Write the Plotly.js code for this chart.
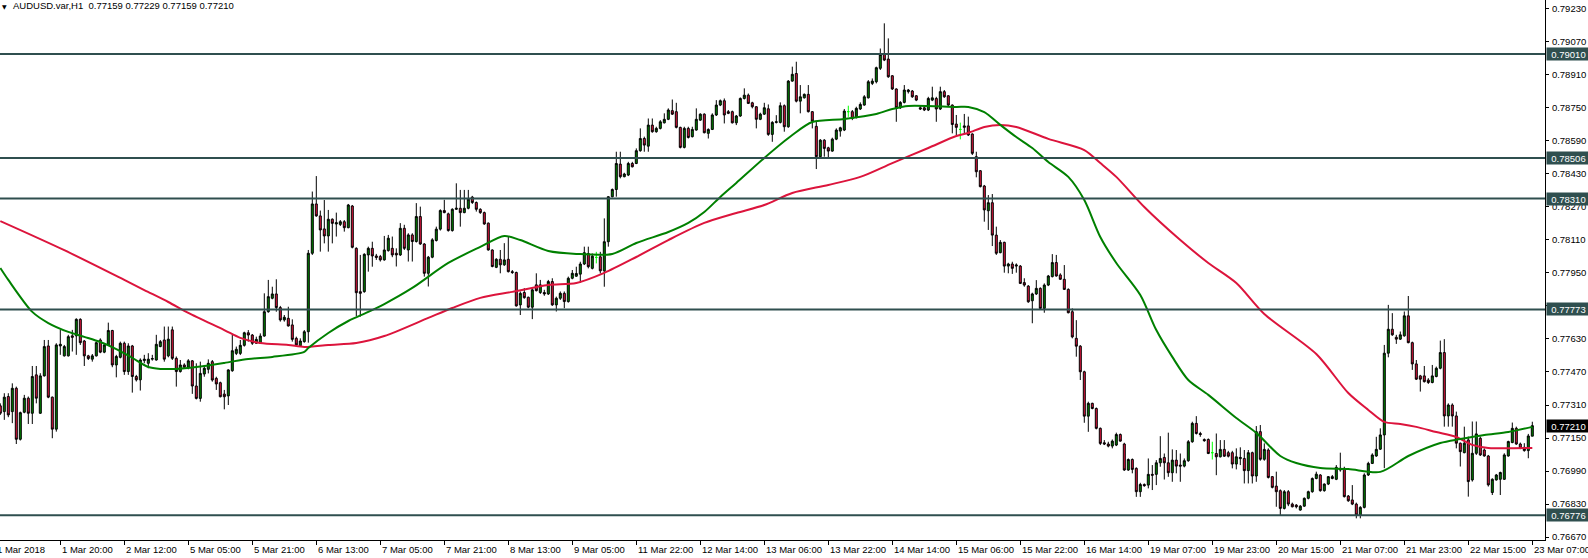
<!DOCTYPE html>
<html><head><meta charset="utf-8">
<script src="https://cdn.plot.ly/plotly-3.0.1.min.js"></script>
<style>html,body{margin:0;padding:0;background:#fff;overflow:hidden}#chart{width:1588px;height:558px}</style>
</head><body><div id="chart"></div>
<script>
const symbolTitle = 'AUDUSD.var,H1  0.77159 0.77229 0.77159 0.77210';

const open = [
0.77306,0.77278,0.77351,0.77278,0.77391,0.77144,0.77275,0.77343,0.77270,0.77456,
0.77270,0.77451,0.77596,0.77348,0.77193,0.77596,0.77548,0.77548,0.77645,0.77645,
0.77725,0.77620,0.77548,0.77532,0.77548,0.77625,0.77566,0.77601,0.77671,0.77504,
0.77541,0.77609,0.77472,0.77596,0.77448,0.77432,0.77525,0.77512,0.77532,0.77528,
0.77593,0.77625,0.77548,0.77674,0.77536,0.77472,0.77504,0.77493,0.77524,0.77402,
0.77342,0.77460,0.77483,0.77520,0.77439,0.77418,0.77363,0.77354,0.77476,0.77560,
0.77560,0.77599,0.77660,0.77649,0.77609,0.77609,0.77644,0.77762,0.77827,0.77848,
0.77782,0.77722,0.77730,0.77698,0.77633,0.77597,0.77617,0.77665,0.78045,0.78284,
0.78226,0.78163,0.78129,0.78210,0.78187,0.78185,0.78198,0.78169,0.78274,0.78069,
0.77859,0.77859,0.78037,0.78069,0.78032,0.78029,0.78013,0.78058,0.78069,0.78045,
0.78037,0.78166,0.78061,0.78134,0.78102,0.78223,0.78090,0.77948,0.78026,0.78107,
0.78162,0.78252,0.78236,0.78155,0.78258,0.78263,0.78242,0.78263,0.78317,0.78291,
0.78258,0.78242,0.78191,0.78061,0.77977,0.78016,0.77989,0.78016,0.77956,0.77952,
0.77795,0.77855,0.77832,0.77784,0.77892,0.77855,0.77855,0.77848,0.77908,0.77795,
0.77827,0.77851,0.77811,0.77924,0.77934,0.77944,0.77993,0.78044,0.77972,0.78025,
0.78028,0.77960,0.78101,0.78319,0.78354,0.78477,0.78416,0.78424,0.78480,0.78480,
0.78542,0.78601,0.78564,0.78666,0.78634,0.78650,0.78677,0.78694,0.78736,0.78731,
0.78655,0.78558,0.78650,0.78610,0.78642,0.78690,0.78719,0.78626,0.78645,0.78715,
0.78763,0.78784,0.78731,0.78731,0.78677,0.78710,0.78795,0.78811,0.78774,0.78755,
0.78694,0.78719,0.78745,0.78621,0.78679,0.78679,0.78760,0.78658,0.78879,0.78916,
0.78782,0.78798,0.78815,0.78731,0.78660,0.78513,0.78593,0.78556,0.78540,0.78598,
0.78637,0.78642,0.78731,0.78731,0.78706,0.78744,0.78763,0.78798,0.78868,0.78876,
0.78941,0.79008,0.78986,0.78905,0.78841,0.78750,0.78776,0.78828,0.78831,0.78808,
0.78750,0.78750,0.78739,0.78787,0.78795,0.78744,0.78828,0.78808,0.78763,0.78671,
0.78645,0.78655,0.78662,0.78623,0.78513,0.78445,0.78371,0.78251,0.78290,0.78133,
0.78048,0.78098,0.77983,0.77993,0.77983,0.77983,0.77903,0.77886,0.77815,0.77848,
0.77875,0.77778,0.77891,0.77932,0.78000,0.77940,0.77919,0.77870,0.77762,0.77633,
0.77595,0.77471,0.77256,0.77318,0.77293,0.77197,0.77127,0.77121,0.77111,0.77116,
0.77167,0.77121,0.76995,0.77046,0.77003,0.76890,0.76925,0.76922,0.76974,0.76974,
0.77030,0.77056,0.77030,0.76982,0.77043,0.77019,0.77014,0.77040,0.77132,0.77221,
0.77172,0.77143,0.77143,0.77079,0.77075,0.77059,0.77095,0.77079,0.77079,0.77024,
0.77050,0.77051,0.76992,0.77079,0.76966,0.77181,0.77047,0.77092,0.76963,0.76917,
0.76895,0.76809,0.76890,0.76830,0.76825,0.76801,0.76820,0.76858,0.76890,0.76954,
0.76971,0.76895,0.76927,0.76954,0.76950,0.76995,0.77003,0.76869,0.76850,0.76830,
0.76777,0.76814,0.76971,0.77027,0.77063,0.77096,0.77165,0.77561,0.77677,0.77638,
0.77629,0.77645,0.77742,0.77612,0.77509,0.77451,0.77451,0.77431,0.77419,0.77448,
0.77488,0.77564,0.77257,0.77310,0.77257,0.77125,0.77079,0.77141,0.76947,0.77076,
0.77149,0.77092,0.77063,0.76886,0.76947,0.76950,0.76950,0.77063,0.77128,0.77197,
0.77121,0.77105,0.77089,0.77159];

const high = [
0.77318,0.77367,0.77367,0.77415,0.77399,0.77278,0.77359,0.77351,0.77499,0.77499,
0.77464,0.77625,0.77625,0.77351,0.77609,0.77674,0.77601,0.77650,0.77674,0.77730,
0.77730,0.77625,0.77553,0.77557,0.77617,0.77633,0.77609,0.77709,0.77674,0.77553,
0.77617,0.77617,0.77609,0.77601,0.77456,0.77536,0.77553,0.77561,0.77553,0.77650,
0.77625,0.77690,0.77690,0.77690,0.77545,0.77528,0.77512,0.77532,0.77528,0.77512,
0.77520,0.77504,0.77531,0.77528,0.77447,0.77423,0.77383,0.77483,0.77649,0.77593,
0.77625,0.77665,0.77673,0.77654,0.77641,0.77657,0.77851,0.77916,0.77883,0.77919,
0.77790,0.77746,0.77786,0.77725,0.77641,0.77633,0.77673,0.78061,0.78344,0.78419,
0.78252,0.78303,0.78255,0.78214,0.78242,0.78206,0.78206,0.78284,0.78279,0.78074,
0.78037,0.78045,0.78077,0.78101,0.78042,0.78037,0.78129,0.78134,0.78126,0.78069,
0.78191,0.78183,0.78142,0.78142,0.78288,0.78271,0.78094,0.78032,0.78118,0.78174,
0.78258,0.78304,0.78242,0.78263,0.78384,0.78352,0.78352,0.78352,0.78323,0.78296,
0.78263,0.78247,0.78194,0.78064,0.78021,0.78061,0.78094,0.78126,0.77964,0.77956,
0.77860,0.77876,0.77835,0.77876,0.77948,0.77916,0.77868,0.77916,0.77924,0.77835,
0.77860,0.77860,0.77932,0.77964,0.77980,0.78004,0.78077,0.78077,0.78044,0.78052,
0.78052,0.78214,0.78322,0.78359,0.78537,0.78537,0.78435,0.78488,0.78488,0.78553,
0.78650,0.78610,0.78698,0.78698,0.78658,0.78690,0.78723,0.78747,0.78790,0.78774,
0.78658,0.78658,0.78658,0.78658,0.78747,0.78723,0.78723,0.78650,0.78723,0.78787,
0.78790,0.78795,0.78739,0.78736,0.78715,0.78800,0.78844,0.78819,0.78779,0.78758,
0.78726,0.78774,0.78766,0.78685,0.78714,0.78776,0.78766,0.78884,0.78949,0.78973,
0.78860,0.78819,0.78860,0.78734,0.78685,0.78598,0.78598,0.78561,0.78605,0.78650,
0.78658,0.78744,0.78760,0.78739,0.78755,0.78776,0.78811,0.78884,0.78892,0.78949,
0.79037,0.79159,0.79086,0.78908,0.78844,0.78782,0.78860,0.78841,0.78836,0.78811,
0.78763,0.78760,0.78803,0.78852,0.78803,0.78852,0.78836,0.78811,0.78766,0.78715,
0.78678,0.78720,0.78707,0.78626,0.78537,0.78448,0.78376,0.78327,0.78332,0.78174,
0.78109,0.78101,0.77999,0.78004,0.77996,0.77988,0.77924,0.77891,0.77854,0.77915,
0.77880,0.77899,0.77940,0.78041,0.78037,0.77948,0.77988,0.77875,0.77778,0.77721,
0.77600,0.77476,0.77326,0.77321,0.77298,0.77201,0.77140,0.77132,0.77143,0.77176,
0.77172,0.77127,0.77051,0.77051,0.77008,0.76933,0.76930,0.77051,0.77019,0.77043,
0.77159,0.77075,0.77176,0.77095,0.77092,0.77075,0.77051,0.77140,0.77229,0.77256,
0.77180,0.77148,0.77148,0.77132,0.77172,0.77140,0.77140,0.77088,0.77088,0.77100,
0.77105,0.77092,0.77092,0.77084,0.77208,0.77213,0.77124,0.77100,0.76966,0.76987,
0.76901,0.76898,0.76898,0.76837,0.76830,0.76825,0.76862,0.76895,0.76959,0.76987,
0.76975,0.76930,0.76966,0.76971,0.77019,0.77079,0.77011,0.76874,0.76922,0.76837,
0.76820,0.76979,0.77035,0.77076,0.77156,0.77197,0.77601,0.77795,0.77755,0.77650,
0.77666,0.77763,0.77838,0.77617,0.77528,0.77456,0.77499,0.77440,0.77504,0.77496,
0.77622,0.77629,0.77318,0.77318,0.77278,0.77128,0.77205,0.77157,0.77230,0.77230,
0.77157,0.77100,0.77068,0.76955,0.76976,0.76987,0.77076,0.77137,0.77225,0.77205,
0.77128,0.77125,0.77170,0.77229];

const low = [
0.77262,0.77238,0.77251,0.77222,0.77121,0.77138,0.77270,0.77218,0.77218,0.77318,
0.77267,0.77448,0.77343,0.77149,0.77181,0.77553,0.77545,0.77545,0.77569,0.77553,
0.77601,0.77499,0.77528,0.77520,0.77545,0.77561,0.77561,0.77598,0.77493,0.77444,
0.77536,0.77456,0.77456,0.77370,0.77424,0.77380,0.77512,0.77488,0.77525,0.77525,
0.77590,0.77520,0.77541,0.77528,0.77399,0.77467,0.77488,0.77483,0.77364,0.77337,
0.77326,0.77447,0.77463,0.77423,0.77383,0.77347,0.77289,0.77310,0.77471,0.77552,
0.77552,0.77593,0.77617,0.77601,0.77606,0.77606,0.77641,0.77757,0.77822,0.77762,
0.77714,0.77714,0.77690,0.77617,0.77596,0.77593,0.77612,0.77612,0.78037,0.78222,
0.78053,0.78093,0.78053,0.78093,0.78126,0.78177,0.78150,0.78166,0.78069,0.77741,
0.77738,0.77854,0.77956,0.77980,0.78013,0.78005,0.78009,0.78053,0.78026,0.77981,
0.78032,0.78061,0.78005,0.78005,0.78097,0.78086,0.77932,0.77884,0.78021,0.78102,
0.78155,0.78239,0.78150,0.78150,0.78255,0.78174,0.78239,0.78258,0.78284,0.78247,
0.78236,0.78183,0.78058,0.77977,0.77973,0.77948,0.77984,0.77952,0.77945,0.77787,
0.77746,0.77825,0.77779,0.77726,0.77860,0.77848,0.77839,0.77843,0.77790,0.77763,
0.77819,0.77779,0.77806,0.77919,0.77931,0.77902,0.77988,0.77972,0.77967,0.77996,
0.77947,0.77883,0.78077,0.78316,0.78319,0.78408,0.78413,0.78419,0.78461,0.78477,
0.78537,0.78537,0.78537,0.78629,0.78629,0.78645,0.78674,0.78690,0.78715,0.78650,
0.78553,0.78553,0.78601,0.78606,0.78639,0.78687,0.78626,0.78601,0.78642,0.78710,
0.78758,0.78674,0.78719,0.78674,0.78666,0.78706,0.78790,0.78768,0.78747,0.78650,
0.78690,0.78715,0.78614,0.78585,0.78674,0.78674,0.78634,0.78653,0.78876,0.78776,
0.78723,0.78795,0.78727,0.78650,0.78453,0.78508,0.78513,0.78508,0.78537,0.78593,
0.78610,0.78637,0.78706,0.78690,0.78698,0.78739,0.78760,0.78795,0.78860,0.78868,
0.78933,0.78976,0.78895,0.78836,0.78682,0.78744,0.78771,0.78819,0.78798,0.78782,
0.78739,0.78734,0.78734,0.78782,0.78682,0.78739,0.78798,0.78755,0.78626,0.78618,
0.78597,0.78626,0.78613,0.78521,0.78413,0.78364,0.78198,0.78158,0.78080,0.78037,
0.78045,0.77951,0.77948,0.77945,0.77951,0.77896,0.77883,0.77805,0.77706,0.77843,
0.77773,0.77757,0.77886,0.77928,0.77932,0.77916,0.77867,0.77754,0.77633,0.77544,
0.77431,0.77224,0.77180,0.77289,0.77192,0.77116,0.77116,0.77105,0.77100,0.77111,
0.77132,0.76991,0.76991,0.76979,0.76865,0.76865,0.76914,0.76906,0.76898,0.76922,
0.77011,0.76949,0.76962,0.76938,0.76979,0.76938,0.77008,0.77035,0.77127,0.77167,
0.77156,0.77132,0.77072,0.77046,0.76970,0.77056,0.77059,0.77056,0.77003,0.76998,
0.77019,0.76930,0.76930,0.76930,0.76938,0.77040,0.77040,0.76954,0.76906,0.76817,
0.76777,0.76804,0.76820,0.76814,0.76809,0.76798,0.76817,0.76853,0.76885,0.76950,
0.76890,0.76890,0.76922,0.76950,0.76946,0.76987,0.76862,0.76841,0.76825,0.76761,
0.76761,0.76809,0.76966,0.77024,0.77059,0.77092,0.77004,0.77541,0.77645,0.77606,
0.77625,0.77641,0.77609,0.77480,0.77431,0.77375,0.77419,0.77412,0.77415,0.77444,
0.77483,0.77205,0.77205,0.77205,0.77100,0.77012,0.77076,0.76866,0.76939,0.77068,
0.77063,0.77060,0.76915,0.76874,0.76944,0.76874,0.76947,0.77060,0.77125,0.77117,
0.77096,0.77084,0.77052,0.77159];

const close = [
0.77270,0.77348,0.77262,0.77391,0.77144,0.77273,0.77343,0.77270,0.77448,0.77343,
0.77451,0.77593,0.77348,0.77193,0.77601,0.77604,0.77593,0.77641,0.77638,0.77725,
0.77612,0.77548,0.77535,0.77548,0.77612,0.77566,0.77601,0.77671,0.77504,0.77545,
0.77609,0.77472,0.77596,0.77448,0.77432,0.77528,0.77532,0.77532,0.77535,0.77604,
0.77617,0.77532,0.77629,0.77536,0.77472,0.77504,0.77493,0.77524,0.77402,0.77342,
0.77463,0.77488,0.77512,0.77431,0.77412,0.77350,0.77350,0.77480,0.77573,0.77580,
0.77599,0.77660,0.77649,0.77609,0.77628,0.77644,0.77762,0.77835,0.77848,0.77782,
0.77722,0.77735,0.77693,0.77628,0.77601,0.77620,0.77665,0.78045,0.78284,0.78226,
0.78158,0.78129,0.78210,0.78190,0.78193,0.78198,0.78169,0.78279,0.78074,0.77854,
0.77851,0.78040,0.78069,0.78032,0.78025,0.78013,0.78061,0.78118,0.78037,0.78037,
0.78166,0.78069,0.78134,0.78102,0.78223,0.78090,0.77948,0.78026,0.78110,0.78162,
0.78252,0.78242,0.78155,0.78258,0.78263,0.78242,0.78263,0.78307,0.78291,0.78258,
0.78242,0.78187,0.78061,0.77981,0.78016,0.77989,0.78013,0.77956,0.77952,0.77790,
0.77851,0.77830,0.77784,0.77868,0.77864,0.77892,0.77848,0.77908,0.77795,0.77827,
0.77851,0.77811,0.77924,0.77948,0.77947,0.77993,0.78048,0.77980,0.78031,0.78025,
0.77960,0.78101,0.78319,0.78354,0.78480,0.78416,0.78429,0.78480,0.78464,0.78542,
0.78601,0.78569,0.78666,0.78634,0.78650,0.78682,0.78694,0.78739,0.78719,0.78655,
0.78558,0.78650,0.78606,0.78645,0.78694,0.78719,0.78629,0.78645,0.78715,0.78763,
0.78784,0.78715,0.78723,0.78677,0.78710,0.78795,0.78811,0.78771,0.78755,0.78694,
0.78719,0.78750,0.78621,0.78679,0.78682,0.78760,0.78658,0.78879,0.78912,0.78782,
0.78803,0.78815,0.78731,0.78685,0.78513,0.78593,0.78553,0.78540,0.78598,0.78642,
0.78653,0.78734,0.78731,0.78698,0.78747,0.78766,0.78803,0.78876,0.78879,0.78944,
0.79008,0.78981,0.78900,0.78841,0.78750,0.78776,0.78836,0.78836,0.78803,0.78787,
0.78744,0.78739,0.78795,0.78798,0.78744,0.78828,0.78803,0.78763,0.78669,0.78655,
0.78645,0.78662,0.78618,0.78529,0.78440,0.78368,0.78255,0.78290,0.78133,0.78045,
0.78098,0.77983,0.77993,0.77972,0.77988,0.77899,0.77891,0.77810,0.77848,0.77875,
0.77778,0.77891,0.77935,0.78000,0.77935,0.77919,0.77870,0.77757,0.77640,0.77595,
0.77471,0.77256,0.77318,0.77293,0.77197,0.77124,0.77121,0.77111,0.77135,0.77167,
0.77135,0.76995,0.77046,0.76998,0.76890,0.76925,0.76919,0.76974,0.76970,0.77030,
0.77051,0.77030,0.76982,0.77043,0.77014,0.77014,0.77040,0.77132,0.77221,0.77172,
0.77167,0.77137,0.77075,0.77079,0.77059,0.77095,0.77062,0.77062,0.77024,0.77059,
0.77056,0.76992,0.77079,0.76966,0.77181,0.77047,0.77095,0.76959,0.76911,0.76890,
0.76809,0.76890,0.76830,0.76817,0.76817,0.76820,0.76858,0.76890,0.76954,0.76975,
0.76895,0.76927,0.76963,0.76963,0.77008,0.77003,0.76866,0.76846,0.76830,0.76777,
0.76814,0.76971,0.77027,0.77068,0.77095,0.77165,0.77561,0.77677,0.77650,0.77629,
0.77650,0.77742,0.77612,0.77509,0.77435,0.77435,0.77423,0.77419,0.77451,0.77488,
0.77564,0.77257,0.77310,0.77257,0.77125,0.77084,0.77125,0.76939,0.77076,0.77170,
0.77068,0.77063,0.76923,0.76950,0.76971,0.76983,0.77068,0.77133,0.77197,0.77121,
0.77100,0.77089,0.77160,0.77210];

// moving averages (bar index, value)
const maFastBars = [0,2,8,12,17,21,25,29,33,37,40,44,49,56,62,68,76,77,82,87,92,96,103,112,120,126,130,137,144,153,159,167,172,176,180,184,191,198,203,211,219,223,227,239,242,246,250,254,258,262,267,271,275,279,285,289,293,297,302,309,314,320,324,330,337,345,352,360,365,371,377,383];
const maFastValues = [0.77974,0.77916,0.77761,0.77707,0.77664,0.77640,0.77615,0.77581,0.77538,0.77494,0.77485,0.77485,0.77494,0.77514,0.77533,0.77543,0.77567,0.77586,0.77659,0.77717,0.77761,0.77799,0.77877,0.77998,0.78076,0.78129,0.78109,0.78056,0.78042,0.78042,0.78095,0.78148,0.78192,0.78245,0.78318,0.78386,0.78507,0.78618,0.78681,0.78696,0.78720,0.78744,0.78759,0.78754,0.78754,0.78729,0.78667,0.78608,0.78555,0.78487,0.78415,0.78303,0.78124,0.77998,0.77843,0.77673,0.77543,0.77431,0.77359,0.77247,0.77175,0.77063,0.77029,0.77005,0.77000,0.76986,0.77063,0.77126,0.77145,0.77165,0.77179,0.77204];
const maSlowBars = [0,16,31,36,42,47,56,60,65,72,76,82,89,96,107,113,120,128,137,144,151,159,167,176,184,191,198,207,215,223,232,239,242,246,250,254,262,271,275,279,286,295,302,309,316,329,337,342,346,350,354,359,364,368,372,383];
const maSlowValues = [0.78201,0.78060,0.77916,0.77867,0.77809,0.77756,0.77673,0.77635,0.77610,0.77601,0.77591,0.77601,0.77610,0.77644,0.77732,0.77780,0.77829,0.77858,0.77891,0.77901,0.77950,0.78027,0.78109,0.78192,0.78240,0.78279,0.78337,0.78376,0.78415,0.78482,0.78555,0.78613,0.78628,0.78657,0.78667,0.78657,0.78599,0.78545,0.78482,0.78415,0.78269,0.78109,0.77998,0.77901,0.77751,0.77557,0.77368,0.77286,0.77228,0.77218,0.77204,0.77179,0.77155,0.77117,0.77102,0.77102];

const firstDateLabel = '1 Mar 2018';
const dateLabels = ['1 Mar 20:00','2 Mar 12:00','5 Mar 05:00','5 Mar 21:00','6 Mar 13:00','7 Mar 05:00','7 Mar 21:00','8 Mar 13:00','9 Mar 05:00','11 Mar 22:00','12 Mar 14:00','13 Mar 06:00','13 Mar 22:00','14 Mar 14:00','15 Mar 06:00','15 Mar 22:00','16 Mar 14:00','19 Mar 07:00','19 Mar 23:00','20 Mar 15:00','21 Mar 07:00','21 Mar 23:00','22 Mar 15:00','23 Mar 07:00'];
const dateLabelBars = [15,31,47,63,79,95,111,127,143,159,175,191,207,223,239,255,271,287,303,319,335,351,367,383];

const priceTicks = [0.76670,0.76830,0.76990,0.77150,0.77310,0.77470,0.77630,0.77790,0.77950,0.78110,0.78270,0.78430,0.78590,0.78750,0.78910,0.79070,0.79230];
const levelLines = [0.79010,0.78506,0.78310,0.77773,0.76776];
const currentPrice = 0.77210;

// ---------- drawing ----------
const W = 1588, H = 558, plotW = 1545, plotH = 540, pxPerBar = 4, xStart = -0.075;
const FONT = {family: "'Liberation Sans', Arial, sans-serif", size: 9.5, color: '#000'};

const idx = open.map((_, i) => i);
const isDoji = idx.map(i => open[i] === close[i]);
const pick = (arr, want) => arr.filter((_, i) => isDoji[i] === want);

const traces = [
  {
    type: 'candlestick', x: pick(idx, false), open: pick(open, false), high: pick(high, false),
    low: pick(low, false), close: pick(close, false), whiskerwidth: 0, hoverinfo: 'none',
    increasing: {line: {color: '#000000', width: 1}, fillcolor: '#008000'},
    decreasing: {line: {color: '#000000', width: 1}, fillcolor: '#DC143C'}
  },
  {
    type: 'candlestick', x: pick(idx, true), open: pick(open, true), high: pick(high, true),
    low: pick(low, true), close: pick(close, true), whiskerwidth: 0, hoverinfo: 'none',
    increasing: {line: {color: '#00FF00', width: 1}, fillcolor: '#00FF00'},
    decreasing: {line: {color: '#00FF00', width: 1}, fillcolor: '#00FF00'}
  },
  {type: 'scatter', mode: 'lines', x: maSlowBars, y: maSlowValues, hoverinfo: 'none',
   line: {color: '#DC143C', width: 2, shape: 'spline', smoothing: 0.8}},
  {type: 'scatter', mode: 'lines', x: maFastBars, y: maFastValues, hoverinfo: 'none',
   line: {color: '#008000', width: 2, shape: 'spline', smoothing: 0.8}}
];

const annotations = [];
annotations.push({xref: 'paper', yref: 'paper', x: 0, y: 1, xanchor: 'left', yanchor: 'top',
  xshift: 0, yshift: -1, text: '\u25BC', showarrow: false, font: {family: "'DejaVu Sans', sans-serif", size: 6, color: '#000'}});
annotations.push({xref: 'paper', yref: 'paper', x: 0, y: 1, xanchor: 'left', yanchor: 'top',
  xshift: 11, yshift: 2, text: symbolTitle, showarrow: false, font: FONT});
annotations.push({xref: 'paper', yref: 'paper', x: -5 / plotW, y: 0, xanchor: 'left', yanchor: 'top',
  yshift: -2, text: firstDateLabel, showarrow: false, font: FONT});
dateLabels.forEach((t, k) => annotations.push({xref: 'x', yref: 'paper', x: dateLabelBars[k], y: 0,
  xanchor: 'left', yanchor: 'top', yshift: -2, text: t, showarrow: false, font: FONT}));
levelLines.forEach(v => annotations.push({xref: 'paper', yref: 'y', x: 1, y: v, xanchor: 'left',
  yanchor: 'middle', xshift: 1, text: v.toFixed(5), showarrow: false, bgcolor: '#2F4F4F',
  width: 41, height: 10, borderpad: 1, align: 'center', font: Object.assign({}, FONT, {color: '#ffffff'})}));
annotations.push({xref: 'paper', yref: 'y', x: 1, y: currentPrice, xanchor: 'left', yanchor: 'middle',
  xshift: 1, text: currentPrice.toFixed(5), showarrow: false, bgcolor: '#000000', width: 41, height: 10,
  borderpad: 1, align: 'center', font: Object.assign({}, FONT, {color: '#ffffff'})});

const shapes = levelLines.map(v => ({type: 'line', xref: 'paper', x0: 0, x1: 1, yref: 'y', y0: v, y1: v,
  layer: 'above', line: {color: '#2F4F4F', width: 2}}));

const layout = {
  width: W, height: H,
  margin: {l: 0, r: W - plotW, t: 0, b: H - plotH, pad: 0},
  paper_bgcolor: '#ffffff', plot_bgcolor: '#ffffff',
  showlegend: false, boxgap: 0.5, boxgroupgap: 0,
  font: FONT,
  xaxis: {
    type: 'linear', range: [xStart, xStart + plotW / pxPerBar], showgrid: false, zeroline: false,
    showline: true, linecolor: '#000', linewidth: 1, ticks: 'outside', ticklen: 4, tickcolor: '#000',
    tickwidth: 1, tickvals: dateLabelBars, showticklabels: false, rangeslider: {visible: false}, fixedrange: true
  },
  yaxis: {
    side: 'right', range: [0.76656, 0.79272], showgrid: false, zeroline: false,
    showline: true, linecolor: '#000', linewidth: 1, ticks: 'outside', ticklen: 3, tickcolor: '#000',
    tickvals: priceTicks, ticktext: priceTicks.map(v => v.toFixed(5)), tickfont: FONT,
    ticklabelstandoff: 1, fixedrange: true
  },
  annotations, shapes
};

Plotly.newPlot('chart', traces, layout, {staticPlot: true, displayModeBar: false});
</script>
</body></html>
